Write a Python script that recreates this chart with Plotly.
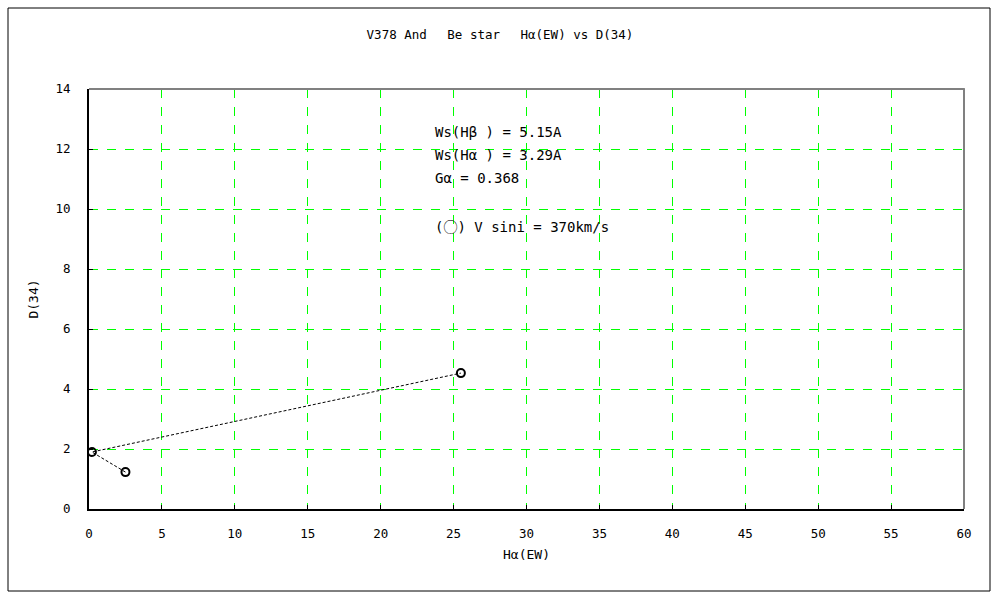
import plotly.graph_objects as go

# Data
ha_ew = [2.5, 0.2, 25.5]
d34 = [1.23, 1.9, 4.53]

x_ticks = list(range(0, 61, 5))
y_ticks = list(range(0, 15, 2))

title_text = "V378 And\u3000 Be star\u3000 H\u03b1(EW) vs D(34)"
info_lines = ["Ws(H\u03b2 ) = 5.15A", "Ws(H\u03b1 ) = 3.29A", "G\u03b1 = 0.368"]
info_y = [12.57, 11.8, 11.03]
vsini_text = "(<span style=\"font-family:'Noto Sans CJK JP'\">\u25ef</span>) V sini = 370km/s"

FONT = "DejaVu Sans Mono"

fig = go.Figure()
fig.add_trace(go.Scatter(
    x=ha_ew, y=d34, mode="lines+markers",
    line=dict(color="black", width=1, dash="3px,2px"),
    marker=dict(symbol="circle-open", size=8, color="black", line=dict(width=2, color="black")),
    showlegend=False, hoverinfo="skip",
))

L, R, T, B = 89, 964, 89, 509
W, H = 1000, 600
pw, ph = R - L, B - T

def px(x):
    return (x - L) / pw

def py(y):
    return (B - y) / ph

shapes = [
    dict(type="rect", xref="paper", yref="paper", x0=px(8), x1=px(990), y0=py(591), y1=py(8),
         line=dict(color="black", width=1), layer="below"),
    dict(type="line", xref="paper", yref="paper", x0=0, x1=1.001, y0=1, y1=1,
         line=dict(color="#808080", width=2)),
    dict(type="line", xref="paper", yref="paper", x0=1, x1=1, y0=0, y1=1,
         line=dict(color="#808080", width=2)),
]

annotations = []
for t, yv in zip(info_lines, info_y):
    annotations.append(dict(x=23.6, y=yv, xref="x", yref="y", text=t, showarrow=False,
                            xanchor="left", yanchor="middle", font=dict(size=14, color="black", family=FONT)))
annotations.append(dict(x=23.6, y=9.43, xref="x", yref="y", text=vsini_text, showarrow=False,
                        xanchor="left", yanchor="middle", font=dict(size=14, color="black", family=FONT)))

fig.update_layout(
    width=W, height=H,
    margin=dict(l=L, r=W - R, t=T, b=H - B),
    plot_bgcolor="white", paper_bgcolor="white",
    title=dict(text=title_text, x=0.5, xref="container", xanchor="center", y=1 - 35 / H, yanchor="middle",
               font=dict(size=12.5, color="black", family=FONT)),
    font=dict(family=FONT, size=12, color="black"),
    shapes=shapes, annotations=annotations,
    xaxis=dict(range=[0, 60], tickvals=x_ticks, ticks="inside", ticklen=4, tickcolor="black",
               showline=True, linecolor="black", linewidth=2, mirror=False,
               showgrid=True, gridcolor="#00ff00", griddash="dash", gridwidth=1,
               zeroline=False, ticklabelstandoff=12, tickfont=dict(size=12.5),
               title=dict(text="H\u03b1(EW)", font=dict(size=13, family=FONT), standoff=10)),
    yaxis=dict(range=[0, 14], tickvals=y_ticks, ticks="inside", ticklen=4, tickcolor="black",
               showline=True, linecolor="black", linewidth=2, mirror=False,
               showgrid=True, gridcolor="#00ff00", griddash="dash", gridwidth=1,
               zeroline=False, ticklabelstandoff=14, tickfont=dict(size=12.5),
               title=dict(text="D(34)", font=dict(size=13, family=FONT), standoff=14)),
)

fig.write_html("out.html", config={"displayModeBar": False},
               post_script="document.body.style.margin='0';")
